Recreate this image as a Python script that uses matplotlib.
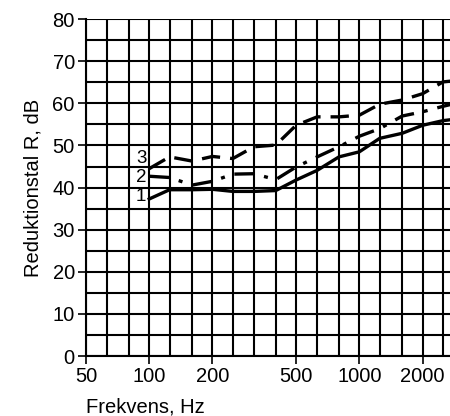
import matplotlib
matplotlib.use("Agg")
import matplotlib.pyplot as plt
from matplotlib.ticker import FixedLocator, NullFormatter

plt.rcParams['font.family'] = ['Liberation Sans', 'DejaVu Sans']

# tersbandsfrekvenser (Hz)
frekvens = [100, 125, 160, 200, 250, 315, 400, 500, 630, 800, 1000, 1250, 1600, 2000, 2500, 3150]

# reduktionstal R (dB) for de tre konstruktioner
kurve1 = [37.3, 39.5, 39.5, 39.6, 39.1, 39.1, 39.3, 41.8, 44.1, 47.3, 48.5, 51.7, 52.9, 54.8, 55.9, 56.5]
kurve2 = [42.7, 42.4, 40.6, 41.5, 43.2, 43.3, 41.9, 44.9, 47.3, 49.7, 52.2, 54.0, 57.0, 58.0, 59.3, 60.5]
kurve3 = [44.5, 47.3, 46.3, 47.4, 46.9, 49.7, 50.1, 54.8, 56.8, 56.8, 57.2, 59.8, 60.8, 62.3, 65.1, 65.6]

gitter_x = [50, 63, 80, 100, 125, 160, 200, 250, 315, 400, 500, 630, 800, 1000, 1250, 1600, 2000, 2500]
x_ticks = [50, 100, 200, 500, 1000, 2000]
x_labels = ['50', '100', '200', '500', '1000', '2000']
y_ticks = [0, 10, 20, 30, 40, 50, 60, 70, 80]

fig = plt.figure(figsize=(4.5, 4.16), dpi=100)
ax = fig.add_axes([0.191, 0.144, 0.809, 0.810])

ax.set_xscale('log')
ax.set_xlim(50, 2700)
ax.set_ylim(0, 80)

# gitter
ax.xaxis.set_major_locator(FixedLocator(x_ticks))
ax.set_xticklabels(x_labels)
ax.xaxis.set_minor_locator(FixedLocator(gitter_x))
ax.xaxis.set_minor_formatter(NullFormatter())
ax.set_yticks(y_ticks)
ax.yaxis.set_minor_locator(FixedLocator(list(range(0, 81, 5))))
ax.grid(which='both', color='black', linewidth=1.5)
ax.tick_params(which='minor', length=0)
ax.tick_params(which='major', direction='out', length=6, width=1.2, labelsize=14.5, pad=2)

for s in ['top', 'right']:
    ax.spines[s].set_visible(False)
ax.spines['left'].set_linewidth(1.5)
ax.spines['bottom'].set_linewidth(1.5)

ax.plot(frekvens, kurve1, color='black', lw=2.4, solid_joinstyle='round')
ax.plot(frekvens, kurve2, color='black', lw=2.4, dashes=(6, 3, 1.2, 3))
ax.plot(frekvens, kurve3, color='black', lw=2.4, dashes=(5.5, 3))

ax.text(97, 46.8, '3', fontsize=13.5, ha='right', va='center')
ax.text(97, 42.4, '2', fontsize=13.5, ha='right', va='center')
ax.text(97, 38.0, '1', fontsize=13.5, ha='right', va='center')

ax.set_ylabel('Reduktionstal R, dB', fontsize=14.5, labelpad=7)
ax.set_xlabel('Frekvens, Hz', fontsize=14.5, loc='left', labelpad=8)

fig.savefig('out.png', dpi=100)
